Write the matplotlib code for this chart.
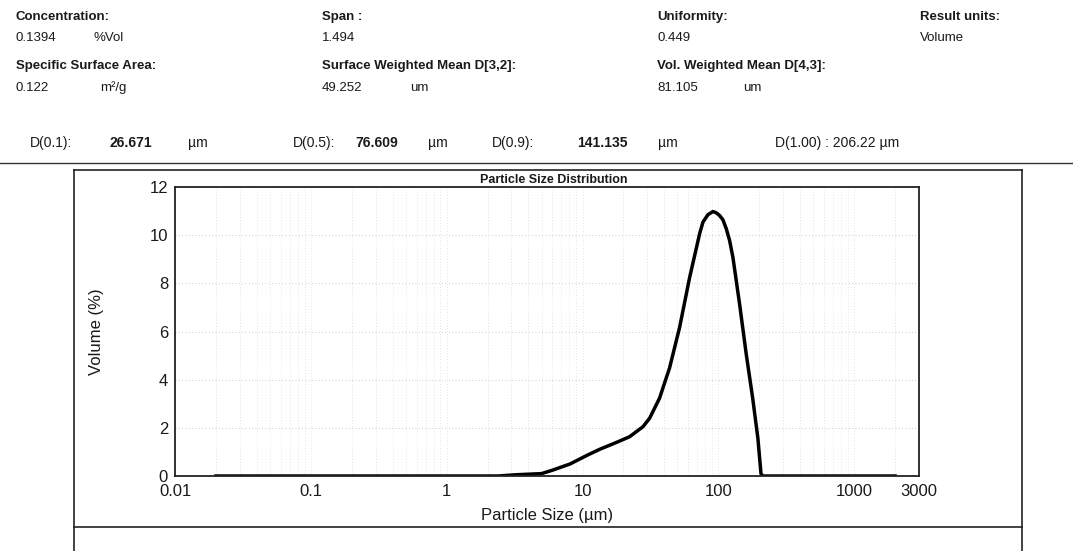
import matplotlib
matplotlib.use("Agg")
import matplotlib.pyplot as plt
from matplotlib.lines import Line2D
from matplotlib.ticker import FixedLocator, FixedFormatter, NullFormatter, LogLocator

plt.rcParams['font.family'] = ['Liberation Sans', 'DejaVu Sans']

# ---- data ----
size_um = [0.02, 0.05, 0.1, 0.3, 1.0, 2.4, 3.2, 5.0, 6.0, 8.1, 10.8, 13.4, 17.7, 22.2,
           27.9, 31.2, 36.9, 43.7, 51.8, 61.5, 72.8, 77, 83.8, 91.2, 96.4, 102, 108,
           114.5, 121, 128, 143.4, 160.6, 179, 195.5, 206, 212, 300, 1000, 2000]
volume_pct = [0, 0, 0, 0, 0, 0, 0.05, 0.1, 0.24, 0.5, 0.86, 1.11, 1.39, 1.63,
              2.05, 2.4, 3.23, 4.48, 6.16, 8.25, 10.06, 10.54, 10.85, 10.98, 10.93, 10.82, 10.64,
              10.26, 9.78, 9.08, 7.13, 5.04, 3.23, 1.56, 0.1, 0, 0, 0, 0]
x_ticks = [0.01, 0.1, 1, 10, 100, 1000, 3000]
x_ticklabels = ["0.01", "0.1", "1", "10", "100", "1000", "3000"]
y_ticks = [0, 2, 4, 6, 8, 10, 12]

header_items = [
    # (text, x_px, y_px, bold)
    ("Concentration:", 16, 17, True), ("0.1394", 16, 38, False), ("%Vol", 94, 38, False),
    ("Specific Surface Area:", 16, 66, True), ("0.122", 16, 88, False), ("m\u00b2/g", 100, 88, False),
    ("Span :", 322, 17, True), ("1.494", 322, 38, False),
    ("Surface Weighted Mean D[3,2]:", 322, 66, True), ("49.252", 322, 88, False), ("um", 410, 88, False),
    ("Uniformity:", 657, 17, True), ("0.449", 657, 38, False),
    ("Vol. Weighted Mean D[4,3]:", 657, 66, True), ("81.105", 657, 88, False), ("um", 743, 88, False),
    ("Result units:", 920, 17, True), ("Volume", 920, 38, False),
]
d_items = [
    ("D(0.1):", 30, False), ("26.671", 110, True), ("\u00b5m", 188, False),
    ("D(0.5):", 293, False), ("76.609", 355, True), ("\u00b5m", 428, False),
    ("D(0.9):", 492, False), ("141.135", 577, True), ("\u00b5m", 658, False),
    ("D(1.00) : 206.22 \u00b5m", 775, False),
]

W, H = 1073, 551
fig = plt.figure(figsize=(W / 100, H / 100), dpi=100)
fig.patch.set_facecolor("white")

def fx(px):
    return px / W

def fy(py):
    return 1 - py / H

for txt, x, y, b in header_items:
    fig.text(fx(x), fy(y), txt, fontsize=9.5, fontweight="bold" if b else "normal",
             ha="left", va="center", color="#1a1a1a")
for txt, x, b in d_items:
    fig.text(fx(x), fy(143), txt, fontsize=10, fontweight="bold" if b else "normal",
             ha="left", va="center", color="#1a1a1a")

# separator and frame lines
lw_f = 1.2
fig.add_artist(Line2D([0, 1], [fy(163), fy(163)], color="#333333", lw=1.0))
fig.add_artist(Line2D([fx(74), fx(1022)], [fy(170), fy(170)], color="#222222", lw=lw_f))
fig.add_artist(Line2D([fx(74), fx(74)], [fy(170), 0], color="#222222", lw=lw_f))
fig.add_artist(Line2D([fx(1022), fx(1022)], [fy(170), 0], color="#222222", lw=lw_f))
fig.add_artist(Line2D([fx(74), fx(1022)], [fy(527), fy(527)], color="#222222", lw=lw_f))

# axes
ax = fig.add_axes([fx(175), fy(476), fx(919) - fx(175), fy(187) - fy(476)])
ax.set_xscale("log")
ax.set_xlim(0.01, 3000)
ax.set_ylim(0, 12)
ax.plot(size_um, volume_pct, color="black", lw=2.5, solid_joinstyle="round")

ax.xaxis.set_major_locator(FixedLocator(x_ticks))
ax.xaxis.set_major_formatter(FixedFormatter(x_ticklabels))
ax.xaxis.set_minor_locator(LogLocator(base=10, subs=range(2, 10)))
ax.xaxis.set_minor_formatter(NullFormatter())
ax.set_yticks(y_ticks)
ax.tick_params(axis="both", which="both", length=0, labelsize=12, colors="#1a1a1a")
ax.tick_params(axis="x", pad=6)
ax.tick_params(axis="y", pad=5)

ax.grid(True, which="major", axis="y", color="#bbbbbb", ls=(0, (1, 3)), lw=0.6)
ax.grid(True, which="both", axis="x", color="#cccccc", ls=(0, (1, 3)), lw=0.5)

for s in ax.spines.values():
    s.set_color("#222222")
    s.set_linewidth(1.3)

ax.set_xlabel("Particle Size (\u00b5m)", fontsize=12, labelpad=6, color="#1a1a1a")
ax.set_ylabel("Volume (%)", fontsize=12, labelpad=33, color="#1a1a1a")

fig.text(fx(554), fy(180), "Particle Size Distribution", fontsize=9, fontweight="bold",
         ha="center", va="center", color="#1a1a1a")

fig.savefig("out.png", dpi=100, facecolor="white")
